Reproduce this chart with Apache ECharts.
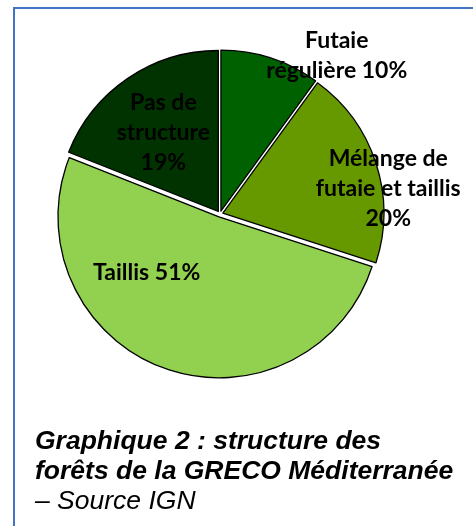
<!DOCTYPE html>
<html>
<head>
<meta charset="utf-8">
<script src="https://cdn.jsdelivr.net/npm/echarts@6/dist/echarts.min.js"></script>
<style>
  *{margin:0;padding:0;box-sizing:border-box}
  html,body{width:473px;height:526px;background:#fff;overflow:hidden}
  #chart{width:473px;height:526px}
</style>
</head>
<body>
<div id="chart"></div>
<script>
// ── données ─────────────────────────────────────────────
const categories = ['Futaie\nrégulière', 'Mélange de\nfutaie et taillis', 'Taillis', 'Pas de\nstructure'];
const shares     = [10, 20, 51, 19];
const captionLines = ['Graphique 2 : structure des', 'forêts de la GRECO Méditerranée', '– Source IGN'];

// ── style ───────────────────────────────────────────────
const COLORS = ['#006100', '#669900', '#92D050', '#003300'];
const FRAME  = '#4472C4';
// décalage des étiquettes par rapport à la position "inside"
const LABEL_SHIFT = [[90, -76], [86, 1], [-44, -23], [-8, -10]];
// séparateur avant le pourcentage (espace ou saut de ligne)
const PCT_SEP = [' ', '\n', ' ', '\n'];

const chart = echarts.init(document.getElementById('chart'), null, { renderer: 'canvas' });

chart.setOption({
  animation: false,
  color: COLORS,
  series: [{
    type: 'pie',
    center: [220, 214],
    radius: [0, 161],
    startAngle: 90,
    clockwise: true,
    selectedMode: 'multiple',
    selectedOffset: 3,
    itemStyle: { borderColor: '#000', borderWidth: 1.3 },
    emphasis: { disabled: true },
    label: {
      show: true,
      position: 'inside',
      color: '#000',
      fontFamily: 'Lato',
      fontWeight: 'bold',
      fontSize: 23,
      lineHeight: 30,
      align: 'center',
      formatter: p => p.name + PCT_SEP[p.dataIndex] + p.value + '%'
    },
    labelLine: { show: false },
    labelLayout: p => ({ dx: LABEL_SHIFT[p.dataIndex][0], dy: LABEL_SHIFT[p.dataIndex][1] }),
    data: categories.map((c, i) => ({ name: c, value: shares[i], selected: true }))
  }],
  graphic: [
    { type: 'line', shape: { x1: 13, y1: 8, x2: 473, y2: 8 }, style: { stroke: FRAME, lineWidth: 2 } },
    { type: 'line', shape: { x1: 14, y1: 7, x2: 14, y2: 526 }, style: { stroke: FRAME, lineWidth: 2 } },
    ...captionLines.map((t, i) => ({
      type: 'text', left: 35, top: 428 + i * 30,
      style: {
        text: t, fill: '#000',
        font: (i < 2 ? 'italic bold ' : 'italic ') + '26.5px "Liberation Sans", Arial, sans-serif'
      }
    }))
  ]
});
</script>
</body>
</html>
